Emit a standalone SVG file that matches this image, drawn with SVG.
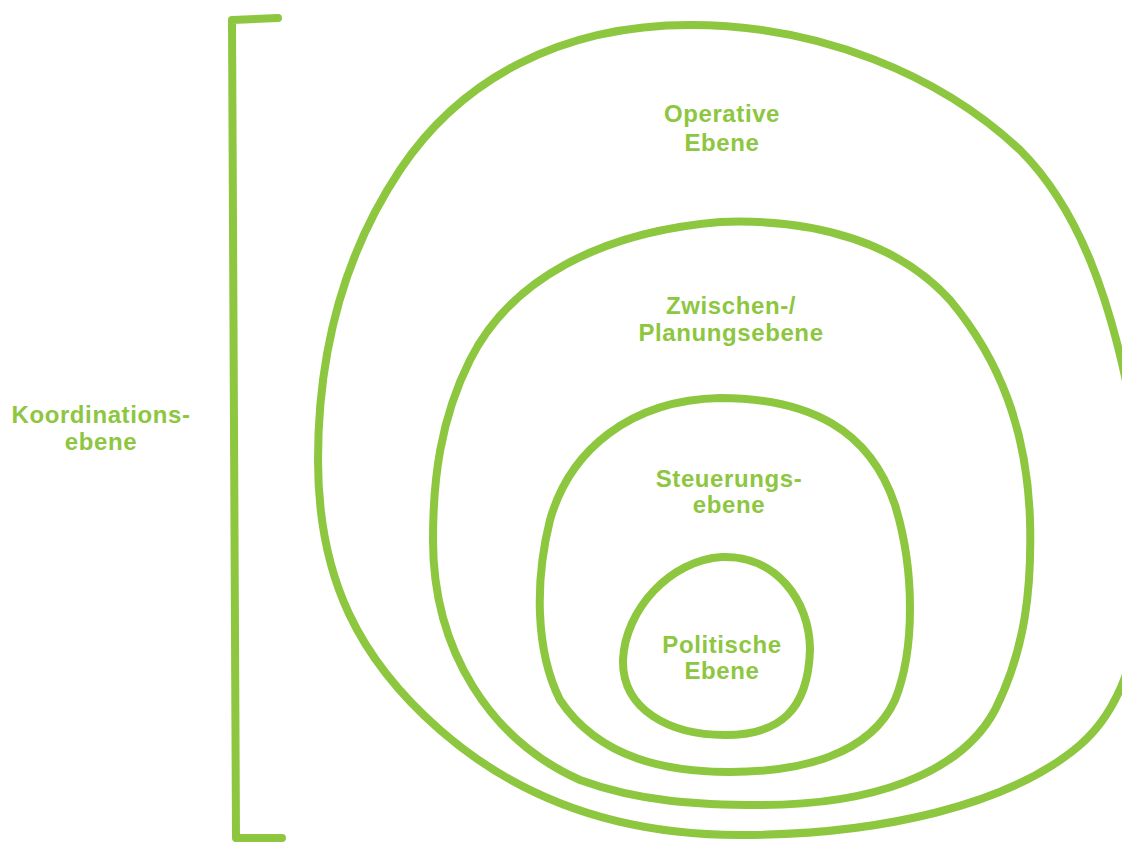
<svg xmlns="http://www.w3.org/2000/svg" width="1122" height="843" viewBox="0 0 1122 843">
<style>
.ring{fill:none;stroke:#8dc63f;stroke-width:8;stroke-linejoin:round;stroke-linecap:round}
.lbl{font-family:"Liberation Sans",Arial,sans-serif;font-weight:bold;font-size:24px;letter-spacing:0.6px;fill:#8dc63f;text-anchor:middle}
</style>
<rect width="1122" height="843" fill="#ffffff"/>
<g id="operative">
<path class="ring" d="M 690 25 C 560 25 460 80 400 170 C 340 260 318 360 318 460 C 318 580 360 660 440 730 C 520 800 620 835 740 835 C 880 835 1010 805 1080 745 C 1150 685 1160 540 1130 400 C 1110 300 1080 210 1020 150 C 940 75 820 25 690 25 Z"/>
<text class="lbl" x="722" y="122">Operative</text>
<text class="lbl" x="722" y="151">Ebene</text>
</g>
<g id="zwischen">
<path class="ring" d="M 720 222 C 600 232 510 280 470 360 C 440 420 433 480 433 540 C 433 650 490 740 580 780 C 640 802 700 805 760 805 C 870 805 960 775 995 710 C 1025 650 1032 590 1030 520 C 1027 430 1000 360 950 300 C 900 245 820 218 720 222 Z"/>
<text class="lbl" x="731" y="314">Zwischen-/</text>
<text class="lbl" x="731" y="341">Planungsebene</text>
</g>
<g id="steuerung">
<path class="ring" d="M 720 398 C 630 400 570 450 550 520 C 535 580 535 650 560 700 C 600 760 670 772 730 772 C 800 772 870 755 895 700 C 915 650 915 570 895 505 C 870 430 810 398 720 398 Z"/>
<text class="lbl" x="729" y="487">Steuerungs-</text>
<text class="lbl" x="729" y="513">ebene</text>
</g>
<g id="politische">
<path class="ring" d="M 722 557 C 670 560 625 610 623 660 C 622 710 670 735 725 735 C 780 735 808 710 810 650 C 810 600 775 555 722 557 Z"/>
<text class="lbl" x="722" y="653">Politische</text>
<text class="lbl" x="722" y="679">Ebene</text>
</g>
<g id="koordination">
<path class="ring" stroke-width="10" d="M 278 18 L 232 20 L 236 838 L 282 838"/>
<text class="lbl" x="101" y="423">Koordinations-</text>
<text class="lbl" x="101" y="450">ebene</text>
</g>
<g id="connectors"></g>
</svg>
